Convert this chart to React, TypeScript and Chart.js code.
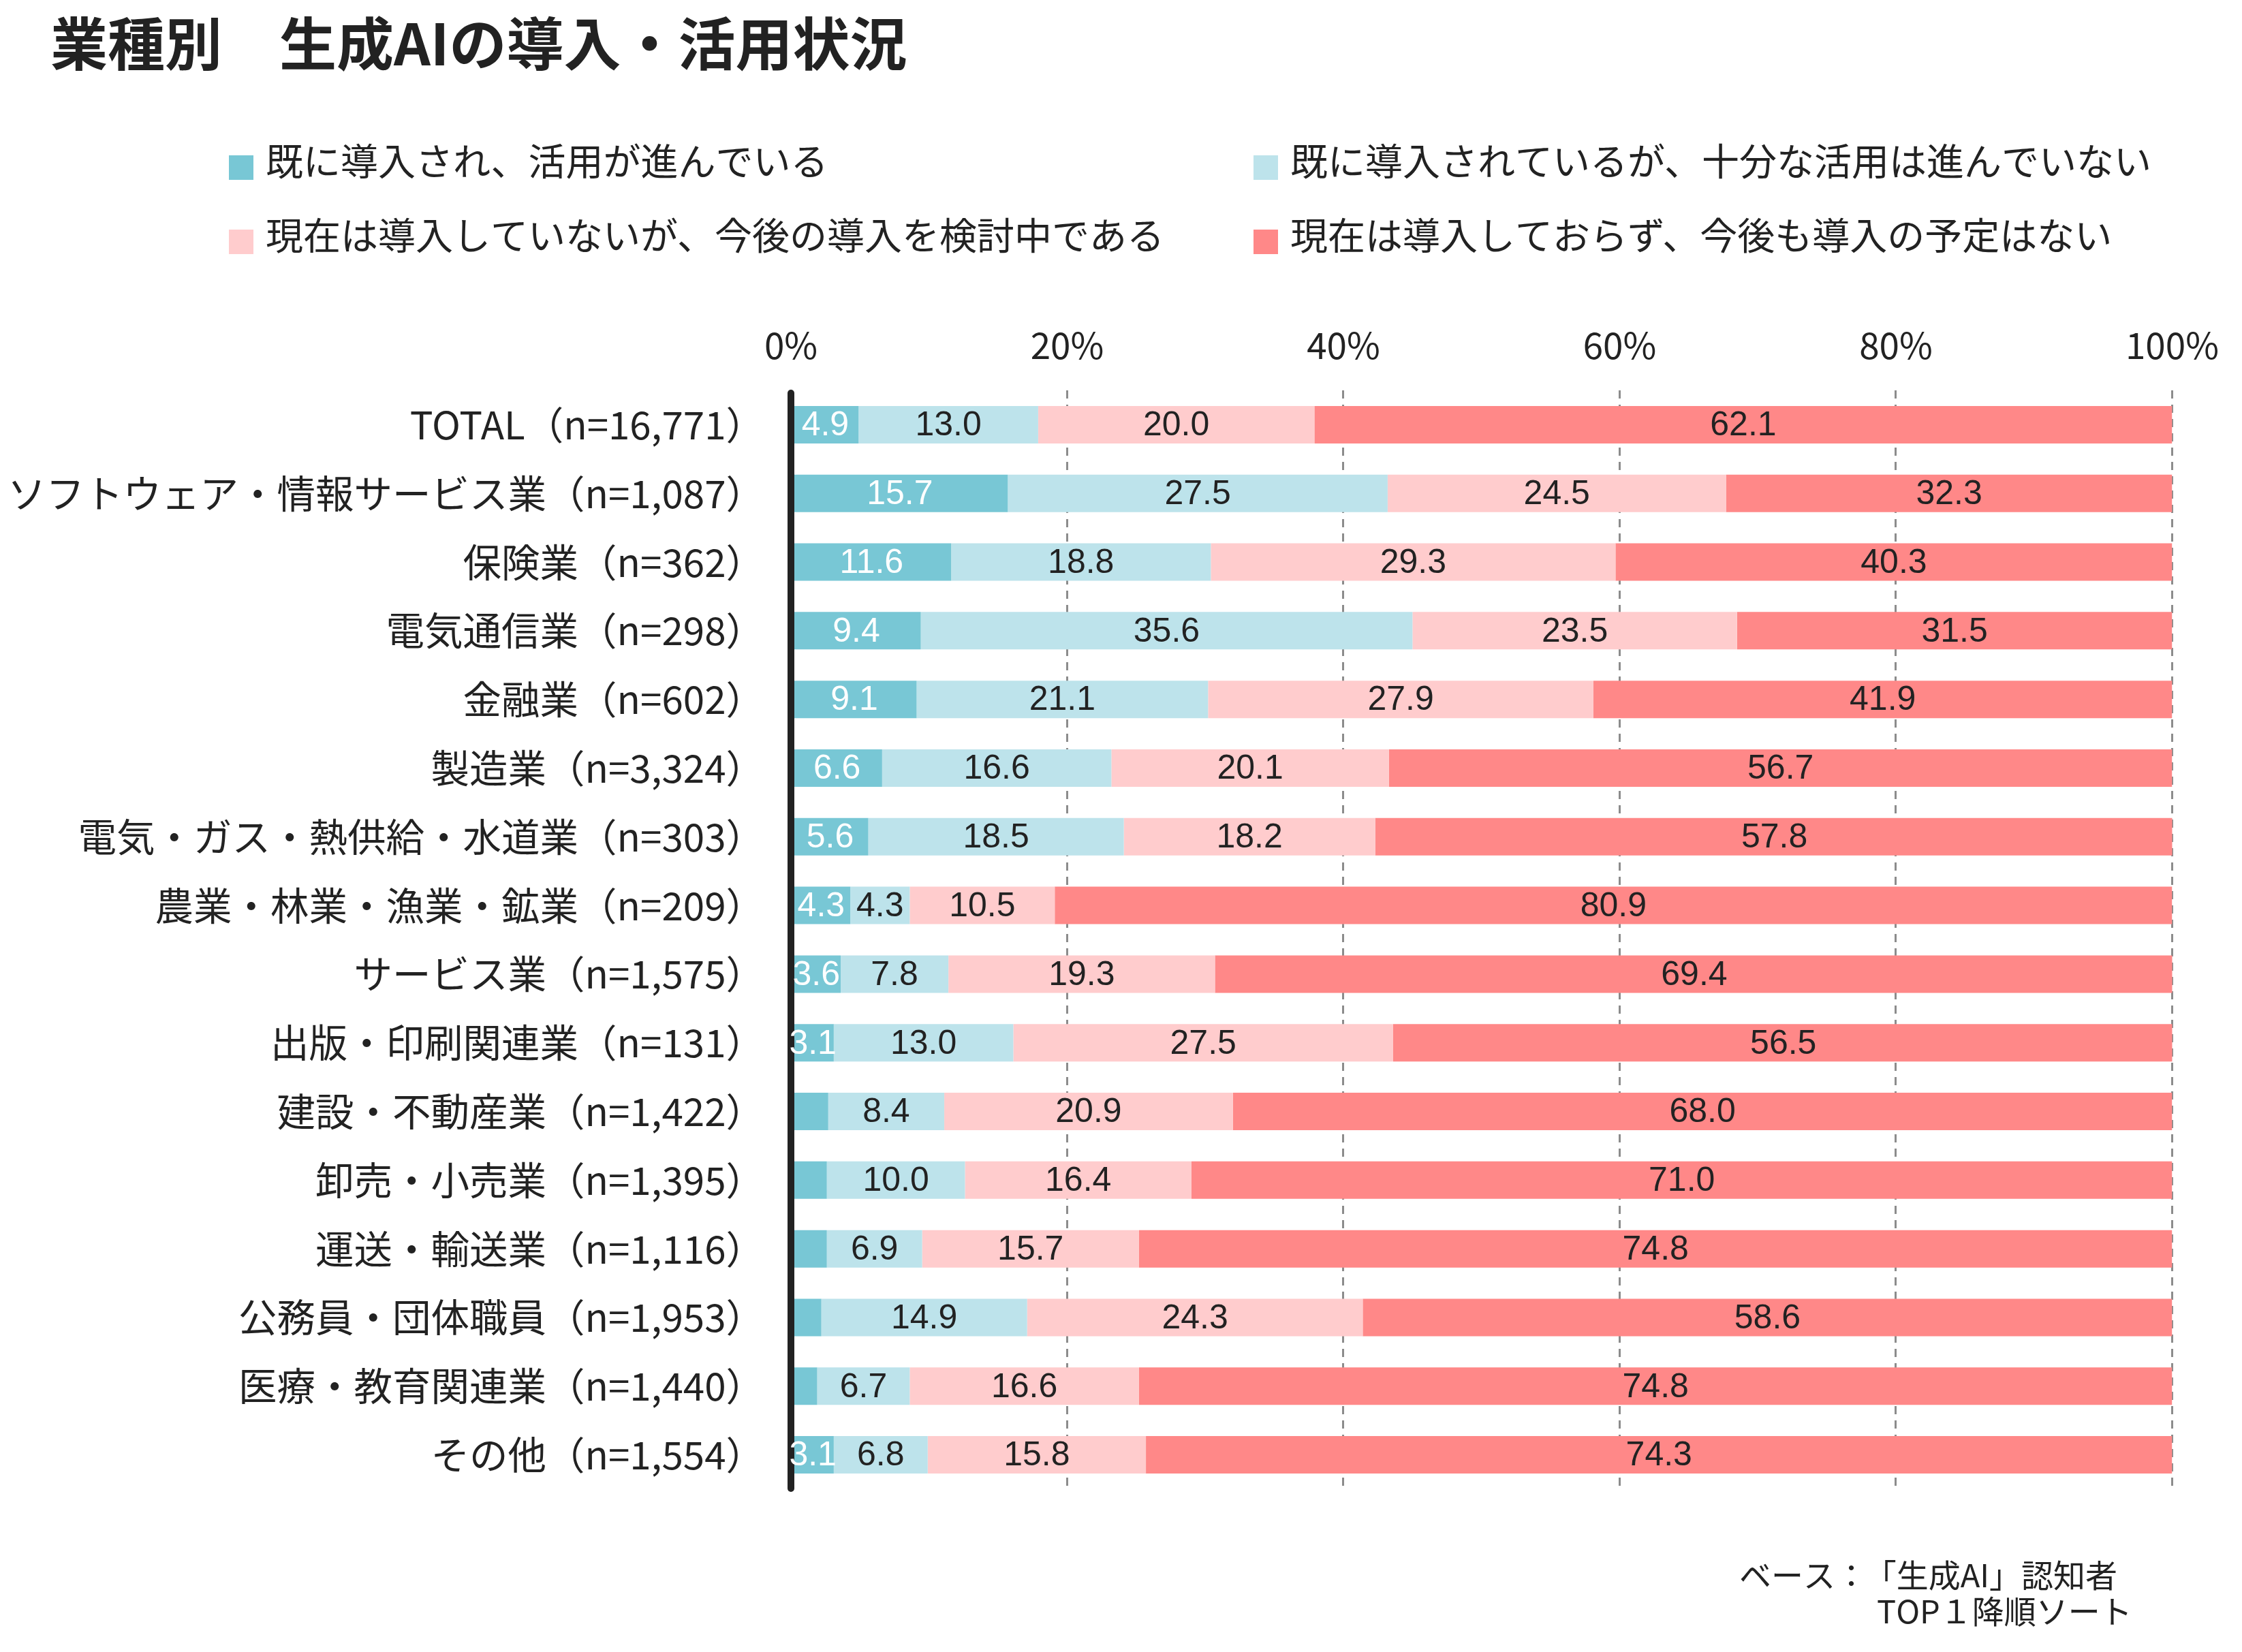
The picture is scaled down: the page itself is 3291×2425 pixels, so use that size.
import React, { useEffect, useRef } from "react";
import { Chart, registerables } from "chart.js";

Chart.register(...registerables);

const W = 3291;
const H = 2425;

const TITLE = "業種別　生成AIの導入・活用状況";
const FOOTNOTE_HEAD = "ベース：";
const FOOTNOTE_BASE = "「生成AI」認知者";
const FOOTNOTE_SORT = "TOP１降順ソート";

const categories = [
  "TOTAL（n=16,771）",
  "ソフトウェア・情報サービス業（n=1,087）",
  "保険業（n=362）",
  "電気通信業（n=298）",
  "金融業（n=602）",
  "製造業（n=3,324）",
  "電気・ガス・熱供給・水道業（n=303）",
  "農業・林業・漁業・鉱業（n=209）",
  "サービス業（n=1,575）",
  "出版・印刷関連業（n=131）",
  "建設・不動産業（n=1,422）",
  "卸売・小売業（n=1,395）",
  "運送・輸送業（n=1,116）",
  "公務員・団体職員（n=1,953）",
  "医療・教育関連業（n=1,440）",
  "その他（n=1,554）",
];

const seriesNames = [
  "既に導入され、活用が進んでいる",
  "既に導入されているが、十分な活用は進んでいない",
  "現在は導入していないが、今後の導入を検討中である",
  "現在は導入しておらず、今後も導入の予定はない",
];

const seriesColors = ["#78C7D5", "#BDE3EB", "#FFCCCD", "#FF8888"];

const activeUse = [4.9, 15.7, 11.6, 9.4, 9.1, 6.6, 5.6, 4.3, 3.6, 3.1, 2.7, 2.6, 2.6, 2.2, 1.9, 3.1];
const limitedUse = [13.0, 27.5, 18.8, 35.6, 21.1, 16.6, 18.5, 4.3, 7.8, 13.0, 8.4, 10.0, 6.9, 14.9, 6.7, 6.8];
const considering = [20.0, 24.5, 29.3, 23.5, 27.9, 20.1, 18.2, 10.5, 19.3, 27.5, 20.9, 16.4, 15.7, 24.3, 16.6, 15.8];
const noPlan = [62.1, 32.3, 40.3, 31.5, 41.9, 56.7, 57.8, 80.9, 69.4, 56.5, 68.0, 71.0, 74.8, 58.6, 74.8, 74.3];

const seriesValues = [activeUse, limitedUse, considering, noPlan];

const xTickStep = 20;
const xMax = 100;
const labelMin = 3;

const JP = "'Noto Sans CJK JP', 'Noto Sans', sans-serif";
const NUM = "'Liberation Sans', Arial, sans-serif";
const TEXT = "#222222";

const overlay = {
  id: "overlay",
  afterDatasetsDraw(chart: any) {
    const { ctx, chartArea: a } = chart;
    ctx.save();
    // vertical baseline at 0%
    ctx.strokeStyle = TEXT;
    ctx.lineWidth = 10;
    ctx.lineCap = "round";
    ctx.beginPath();
    ctx.moveTo(a.left, a.top + 4);
    ctx.lineTo(a.left, a.bottom - 1);
    ctx.stroke();

    // segment value labels
    ctx.font = `50px ${NUM}`;
    ctx.textAlign = "center";
    ctx.textBaseline = "middle";
    chart.data.datasets.forEach((ds: any, di: number) => {
      const meta = chart.getDatasetMeta(di);
      meta.data.forEach((el: any, i: number) => {
        const v = ds.data[i];
        if (v < labelMin) return;
        const { x, base, y } = el.getProps(["x", "base", "y"], true);
        ctx.fillStyle = di === 0 ? "#ffffff" : TEXT;
        ctx.fillText(v.toFixed(1), (x + base) / 2, y + 2);
      });
    });
    ctx.restore();
  },
  afterDraw(chart: any) {
    const { ctx } = chart;
    ctx.save();
    ctx.fillStyle = TEXT;
    ctx.textAlign = "left";
    ctx.textBaseline = "middle";

    // title
    ctx.font = `bold 84px ${JP}`;
    ctx.fillText(TITLE, 74, 64);

    // legend, two columns
    const colMarker = [336, 1840];
    const rowTop = [228, 337];
    chart.data.datasets.forEach((ds: any, i: number) => {
      const c = i % 2;
      const r = Math.floor(i / 2);
      ctx.fillStyle = ds.backgroundColor;
      ctx.fillRect(colMarker[c], rowTop[r], 36, 36);
      ctx.fillStyle = TEXT;
      ctx.font = `55px ${JP}`;
      ctx.fillText(ds.label, colMarker[c] + 54, rowTop[r] + 8);
    });

    // footnote
    ctx.fontKerning = "none";
    ctx.font = `47px ${JP}`;
    ctx.fillText(FOOTNOTE_HEAD, 2553, 2312);
    ctx.textAlign = "right";
    ctx.fillText(FOOTNOTE_BASE, 3108, 2312);
    ctx.textAlign = "left";
    ctx.fillText(FOOTNOTE_SORT, 2755, 2365);
    ctx.restore();
  },
};

export default function App() {
  const ref = useRef<HTMLCanvasElement | null>(null);

  useEffect(() => {
    if (!ref.current) return;
    const chart = new Chart(ref.current, {
      type: "bar",
      data: {
        labels: categories,
        datasets: seriesValues.map((vals, i) => ({
          label: seriesNames[i],
          data: vals,
          backgroundColor: seriesColors[i],
          borderWidth: 0,
          categoryPercentage: 1,
          barPercentage: 0.545,
        })),
      },
      options: {
        indexAxis: "y",
        responsive: false,
        animation: false,
        devicePixelRatio: 1,
        layout: { padding: { top: 460, bottom: 239, left: 0, right: 98 } },
        plugins: {
          legend: { display: false },
          title: { display: false },
          tooltip: { enabled: false },
        },
        scales: {
          x: {
            position: "top",
            stacked: true,
            min: 0,
            max: xMax,
            afterFit: (s: any) => {
              s.height = 113;
            },
            ticks: {
              stepSize: xTickStep,
              callback: (v: any) => `${v}%`,
              color: TEXT,
              font: { size: 53, family: JP },
              padding: 34,
              maxRotation: 0,
            },
            grid: {
              color: "#8c8c8c",
              lineWidth: 3,
              drawTicks: false,
            },
            border: { display: false, dash: [12, 9] },
          },
          y: {
            stacked: true,
            afterFit: (s: any) => {
              s.width = 1161;
            },
            ticks: {
              color: TEXT,
              font: { size: 56.5, family: JP },
              padding: 31,
            },
            grid: { display: false },
            border: { display: false },
          },
        },
      },
      plugins: [overlay],
    } as any);
    return () => chart.destroy();
  }, []);

  return (
    <div style={{ position: "absolute", left: 0, top: 0, width: W, height: H, background: "#fff" }}>
      <canvas ref={ref} width={W} height={H} style={{ display: "block", width: W, height: H }} />
    </div>
  );
}
